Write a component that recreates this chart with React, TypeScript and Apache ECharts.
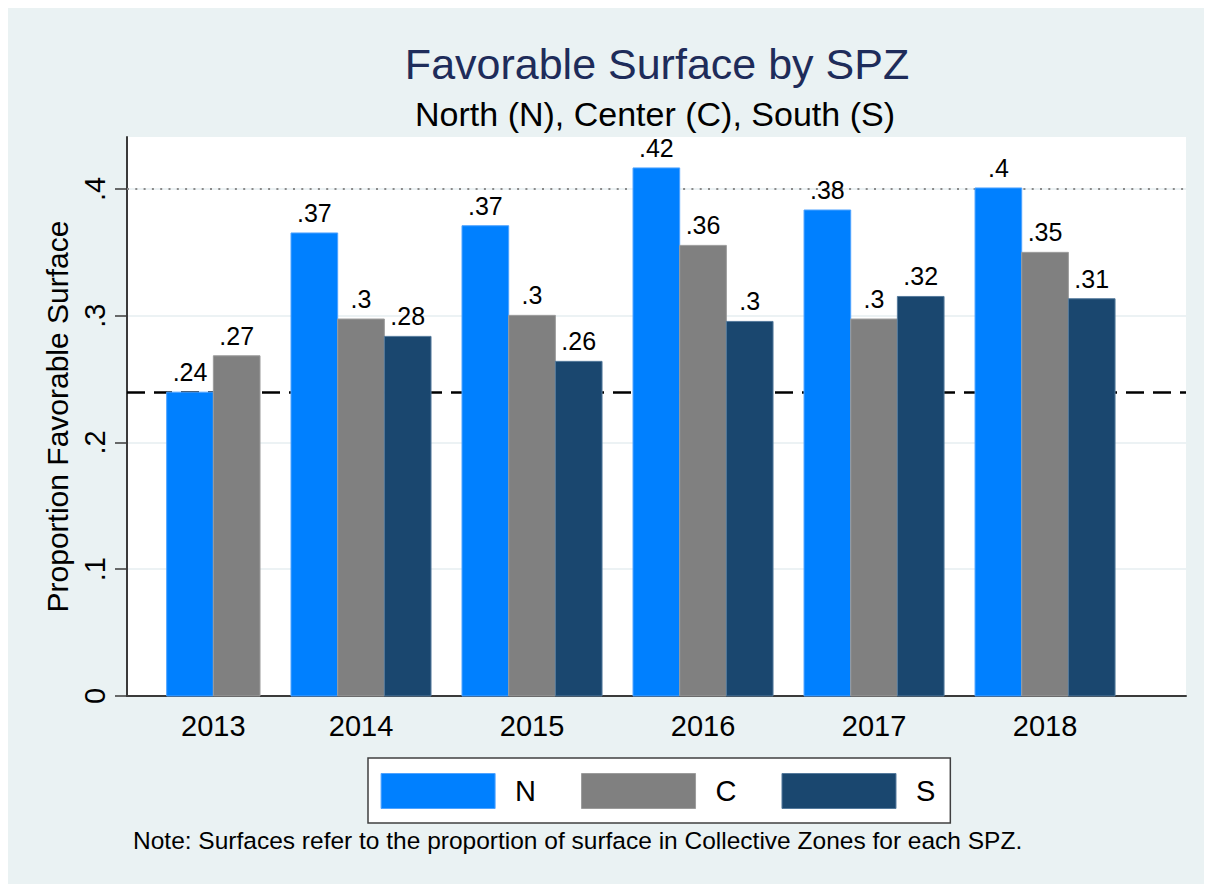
import React, { useEffect, useRef } from 'react';
import * as echarts from 'echarts';

const YEARS = ['2013', '2014', '2015', '2016', '2017', '2018'];
const SERIES_NAMES = ['N', 'C', 'S'];
const N_VALUES: (number | null)[] = [0.2397, 0.3653, 0.371, 0.4166, 0.3834, 0.4008];
const C_VALUES: (number | null)[] = [0.2684, 0.2974, 0.3003, 0.3555, 0.2974, 0.35];
const S_VALUES: (number | null)[] = [null, 0.2837, 0.264, 0.2955, 0.3152, 0.3134];
const Y_TICKS = [0, 0.1, 0.2, 0.3, 0.4];
const Y_MAX = 0.441;
const DASHED_REF = 0.24;
const DOTTED_REF = 0.4;

const TITLE = 'Favorable Surface by SPZ';
const SUBTITLE = 'North (N), Center (C), South (S)';
const Y_TITLE = 'Proportion Favorable Surface';
const NOTE = 'Note: Surfaces refer to the proportion of surface in Collective Zones for each SPZ.';

const COLORS = ['#0080FF', '#808080', '#1A476F'];
const STROKES = ['#4FA3FF', '#9C9C9C', '#557A9C'];
const FONT = "'Liberation Sans', Arial, Helvetica, sans-serif";

// layout in bar-width units
const GROUP_GAP = 0.664;
const LEFT_PAD = 0.85;
const RIGHT_PAD = 1.52;

const ALL = [N_VALUES, C_VALUES, S_VALUES];
const positions: number[][] = ALL.map(() => []);
const yearCenters: number[] = [];
let cursor = 0;
YEARS.forEach((_, i) => {
  let k = 0;
  ALL.forEach((vals, s) => {
    if (vals[i] != null) {
      positions[s][i] = cursor + k + 0.5;
      k++;
    }
  });
  yearCenters.push(cursor + k / 2);
  cursor += k + GROUP_GAP;
});
const X_MIN = -LEFT_PAD;
const X_MAX = cursor - GROUP_GAP + RIGHT_PAD;

const fmt = (v: number) => {
  const r = Math.round(v * 100) / 100;
  return r === 0 ? '0' : String(r).replace(/^0\./, '.');
};

export default function App() {
  const ref = useRef<HTMLDivElement>(null);
  useEffect(() => {
    if (!ref.current) return;
    const chart = echarts.init(ref.current, undefined, { renderer: 'svg' });
    const barSeries = ALL.map((vals, s) => ({
      type: 'custom',
      name: SERIES_NAMES[s],
      z: 3,
      itemStyle: { color: COLORS[s] },
      encode: { x: 0, y: 1 },
      data: vals
        .map((v, i) => (v == null ? null : [positions[s][i], v]))
        .filter((d) => d != null),
      renderItem: (_params: any, api: any) => {
        const x = api.value(0);
        const y = api.value(1);
        const tl = api.coord([x - 0.5, y]);
        const br = api.coord([x + 0.5, 0]);
        return {
          type: 'rect',
          shape: { x: tl[0], y: tl[1], width: br[0] - tl[0], height: br[1] - tl[1] },
          style: { fill: COLORS[s], stroke: STROKES[s], lineWidth: 1 },
          textContent: {
            type: 'text',
            style: { text: fmt(y), fontSize: 25, fill: '#000', fontFamily: FONT },
          },
          textConfig: { position: 'top', distance: 7 },
        };
      },
    }));

    chart.setOption({
      animation: false,
      backgroundColor: '#EAF2F3',
      textStyle: { fontFamily: FONT },
      grid: {
        left: 119,
        right: 26,
        top: 129,
        bottom: 188,
        show: true,
        backgroundColor: '#FFFFFF',
        borderWidth: 0,
        containLabel: false,
        outerBoundsMode: 'none',
      },
      legend: {
        left: 360,
        top: 750,
        orient: 'horizontal',
        backgroundColor: '#FFFFFF',
        borderColor: '#404040',
        borderWidth: 1.5,
        borderRadius: 0,
        padding: [15, 15, 14, 12.6],
        itemWidth: 114,
        itemHeight: 35,
        itemGap: 45,
        icon: 'rect',
        selectedMode: false,
        data: SERIES_NAMES.map((n, i) => ({
          name: n,
          icon: 'rect',
          itemStyle: { color: COLORS[i], borderColor: STROKES[i], borderWidth: 1 },
        })),
        textStyle: { fontSize: 29, color: '#000', fontFamily: FONT, padding: [0, 0, 0, 15] },
      },
      xAxis: {
        type: 'value',
        min: X_MIN,
        max: X_MAX,
        axisLine: { show: true, onZero: false, lineStyle: { color: '#3A3A3A', width: 2 } },
        axisTick: { show: false },
        splitLine: { show: false },
        axisLabel: {
          customValues: yearCenters,
          fontSize: 29,
          color: '#000',
          margin: 15,
          formatter: (v: number) => {
            const i = yearCenters.findIndex((c) => Math.abs(c - v) < 1e-6);
            return i >= 0 ? YEARS[i] : '';
          },
        },
      },
      yAxis: {
        type: 'value',
        min: 0,
        max: Y_MAX,
        name: Y_TITLE,
        nameLocation: 'middle',
        nameRotate: 90,
        nameGap: 54,
        nameTextStyle: { fontSize: 30, color: '#000', fontFamily: FONT },
        axisLine: { show: true, onZero: false, lineStyle: { color: '#3A3A3A', width: 2 } },
        axisTick: {
          show: true,
          inside: false,
          length: 12,
          customValues: Y_TICKS,
          lineStyle: { color: '#3A3A3A', width: 1.5 },
        },
        axisLabel: {
          customValues: Y_TICKS,
          rotate: 90,
          fontSize: 29,
          color: '#000',
          margin: 18,
          formatter: (v: number) => (v === 0 ? '0' : v.toFixed(1).replace(/^0\./, '.')),
        },
        splitLine: { show: true, lineStyle: { color: '#E6EEF1', width: 1.5 } },
      },
      graphic: [
        {
          type: 'text',
          x: 649,
          y: 56,
          style: {
            text: TITLE,
            fontSize: 43,
            fill: '#1E2C5A',
            fontFamily: FONT,
            textAlign: 'center',
            textVerticalAlign: 'middle',
          },
        },
        {
          type: 'text',
          x: 647,
          y: 106,
          style: {
            text: SUBTITLE,
            fontSize: 34,
            fill: '#000',
            fontFamily: FONT,
            textAlign: 'center',
            textVerticalAlign: 'middle',
          },
        },
        {
          type: 'text',
          x: 125,
          y: 832,
          style: {
            text: NOTE,
            fontSize: 24.5,
            fill: '#000',
            fontFamily: FONT,
            textAlign: 'left',
            textVerticalAlign: 'middle',
          },
        },
      ],
      series: [
        {
          type: 'line',
          name: 'refs',
          data: [],
          silent: true,
          z: 1,
          markLine: {
            silent: true,
            symbol: 'none',
            z: 1,
            label: { show: false },
            data: [
              { yAxis: DOTTED_REF, lineStyle: { type: [2, 6.3], color: '#8A8A8A', width: 2 } },
              { yAxis: DASHED_REF, lineStyle: { type: [18, 9], color: '#000', width: 2.5 } },
            ],
          },
        },
        ...barSeries,
      ],
    });
    return () => chart.dispose();
  }, []);
  return <div ref={ref} style={{ width: 1204, height: 876 }} />;
}
